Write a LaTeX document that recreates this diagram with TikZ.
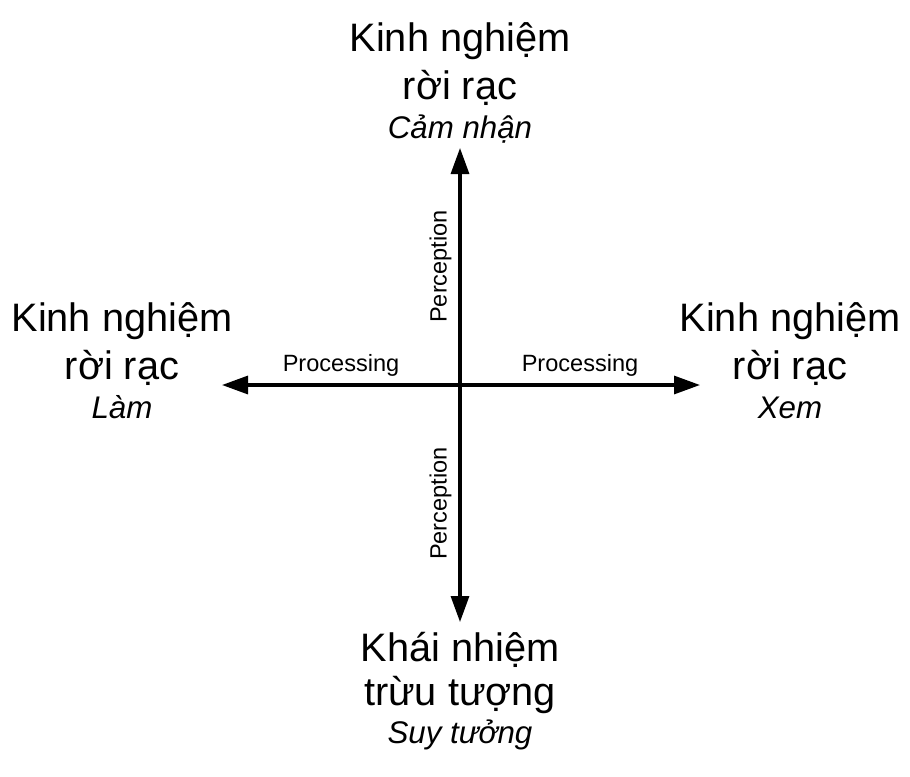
\documentclass[tikz,border=0pt]{standalone}
\usepackage{fontspec}
\setmainfont{Liberation Sans}
\usetikzlibrary{arrows.meta,positioning}

\newcommand{\modetext}[1]{{\fontsize{8.9}{10}\selectfont\itshape #1}}

\begin{document}
\begin{tikzpicture}[scale=1.0,
        bigtag/.style={align=center, inner sep=0pt, anchor=north, font=\fontsize{11.3}{13.5}\selectfont},
        lowtag/.style={bigtag, font=\fontsize{11.3}{12.5}\selectfont},
        axistag/.style={inner sep=2pt, font=\fontsize{6.7}{8}\selectfont}
    ]

    %styles
    \tikzstyle{axis}=[-{Triangle[length=0.26cm,width=0.18cm]}, line width=0.9pt]

    \useasboundingbox (-4.60,-3.91) rectangle (4.50,3.85);

    %nodes
    \coordinate (o) at (0,0);
    \coordinate (n) at (0,2.37);
    \coordinate (s) at (0,-2.37);
    \coordinate (w) at (-2.38,0);
    \coordinate (e) at (2.40,0);

    \node[bigtag] (top) at (0,3.63) {Kinh nghiệm\\rời rạc\\[-2.3pt]\modetext{Cảm nhận}};
    \node[bigtag] (left) at (-3.38,0.83) {Kinh nghiệm\\rời rạc\\[-2.3pt]\modetext{Làm}};
    \node[bigtag] (right) at (3.30,0.83) {Kinh nghiệm\\rời rạc\\[-2.3pt]\modetext{Xem}};
    \node[lowtag] (bottom) at (0,-2.47) {Khái nhiệm\\trừu tượng\\[-1.7pt]\modetext{Suy tưởng}};

    %arrows
    \draw[axis] (o) -- (n) node[midway, rotate=90, anchor=south, axistag] (pup) {Perception};
    \draw[axis] (o) -- (s) node[midway, rotate=90, anchor=south, axistag] (pdown) {Perception};
    \draw[axis] (o) -- (w) node[midway, above, axistag] (pleft) {Processing};
    \draw[axis] (o) -- (e) node[midway, above, axistag] (pright) {Processing};

\end{tikzpicture}
\end{document}
